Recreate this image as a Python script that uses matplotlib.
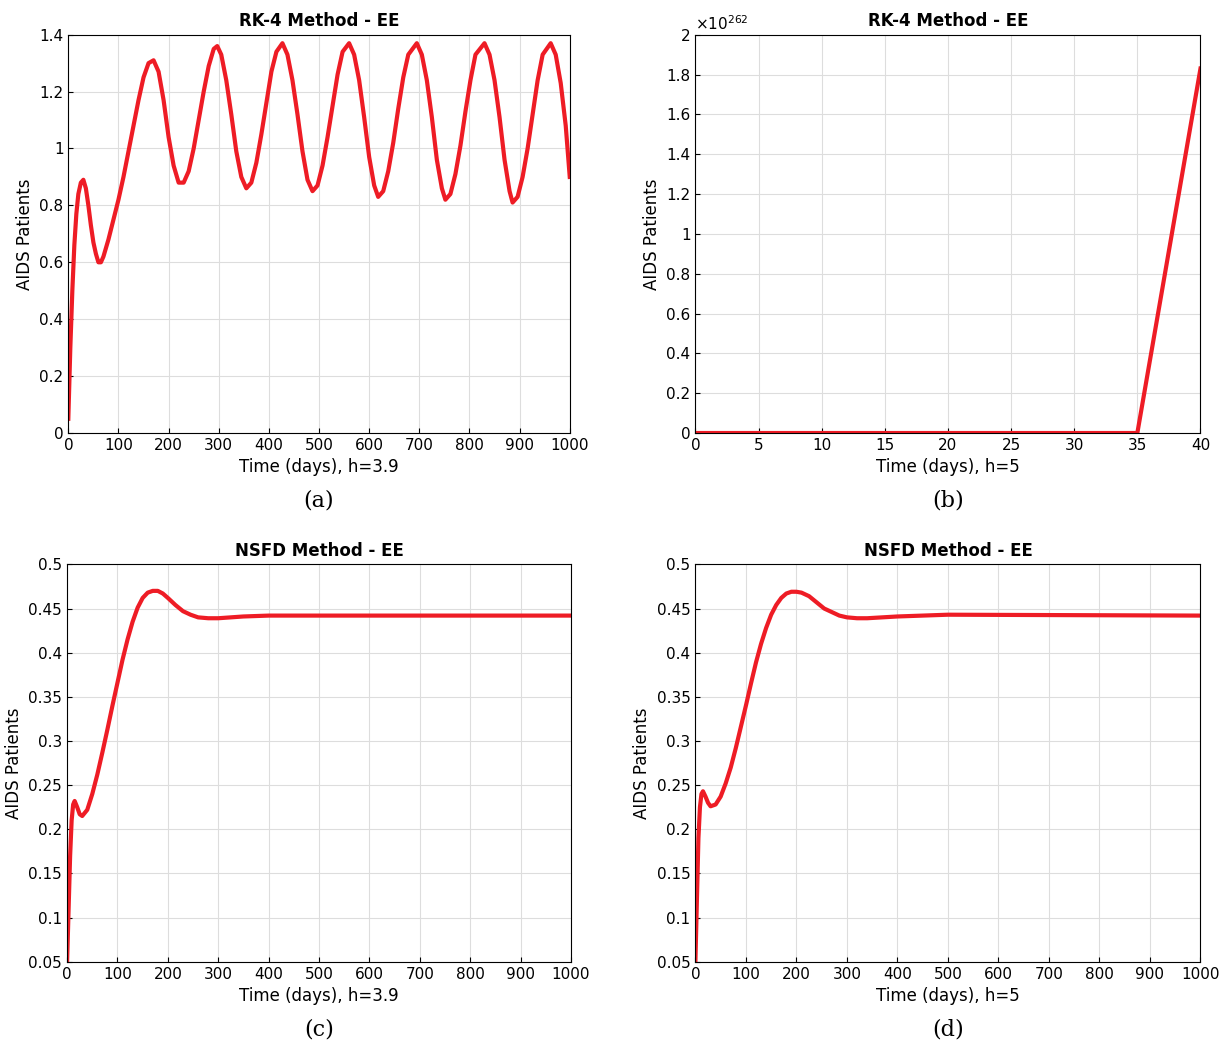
import matplotlib
matplotlib.use('Agg')
import matplotlib.pyplot as plt
import numpy as np

# (a) RK-4, h=3.9
ta = [0, 4, 8, 12, 16, 20, 25, 30, 35, 40, 45, 50, 55, 60, 65, 70, 80, 90, 100, 110, 120, 130, 140, 150, 160, 170,
      180, 190, 200, 210, 220, 230, 240, 250, 260, 270, 280, 290, 297, 305, 315, 325, 335, 345, 355,
      365, 375, 385, 395, 405, 415, 427, 437, 447, 457, 467, 477, 487,
      497, 507, 517, 527, 537, 547, 560, 570, 580, 590, 600, 610, 618,
      628, 638, 648, 658, 668, 678, 695, 705, 715, 725, 735, 745, 752,
      762, 772, 782, 792, 802, 812, 830, 840, 850, 860, 870, 880, 886,
      896, 906, 916, 926, 936, 946, 962, 972, 982, 992, 1000]
ya = [0.05, 0.3, 0.5, 0.66, 0.77, 0.84, 0.88, 0.89, 0.86, 0.8, 0.73, 0.67, 0.63, 0.6, 0.6, 0.62, 0.68, 0.75, 0.82, 0.9, 0.99, 1.08, 1.17, 1.25, 1.3, 1.31,
      1.27, 1.17, 1.04, 0.94, 0.88, 0.88, 0.92, 1.0, 1.1, 1.2, 1.29, 1.35, 1.36, 1.33, 1.24, 1.12, 0.99, 0.9, 0.86,
      0.88, 0.95, 1.05, 1.16, 1.27, 1.34, 1.37, 1.33, 1.24, 1.12, 0.99, 0.89, 0.85,
      0.87, 0.94, 1.04, 1.15, 1.26, 1.34, 1.37, 1.33, 1.24, 1.11, 0.97, 0.87, 0.83,
      0.85, 0.92, 1.02, 1.14, 1.25, 1.33, 1.37, 1.33, 1.24, 1.11, 0.96, 0.86, 0.82,
      0.84, 0.91, 1.01, 1.13, 1.24, 1.33, 1.37, 1.33, 1.24, 1.11, 0.96, 0.85, 0.81,
      0.83, 0.9, 1.0, 1.12, 1.24, 1.33, 1.37, 1.33, 1.23, 1.08, 0.9]

# (b) RK-4, h=5 (blows up)
tb = [0, 5, 10, 15, 20, 25, 30, 35, 40]
yb = [0, 0, 0, 0, 0, 0, 0, 0, 1.83e262]

# (c) NSFD, h=3.9
tc = [0, 3, 6, 9, 12, 15, 20, 25, 30, 40, 50, 60, 70, 80, 90, 100, 110, 120, 130, 140, 150, 160, 170, 180, 190, 200, 215, 230,
      245, 260, 280, 300, 325, 350, 400, 500, 1000]
yc = [0.05, 0.11, 0.17, 0.21, 0.228, 0.232, 0.225, 0.217, 0.215, 0.222, 0.24, 0.262, 0.287, 0.313, 0.34, 0.366, 0.392, 0.415, 0.435, 0.451, 0.462, 0.468, 0.47, 0.47, 0.467, 0.462, 0.454, 0.447,
      0.443, 0.44, 0.439, 0.439, 0.44, 0.441, 0.442, 0.442, 0.442]

# (d) NSFD, h=5
td = [0, 3, 6, 9, 12, 15, 20, 25, 30, 40, 50, 60, 70, 80, 90, 100, 110, 120, 130, 140, 150, 160, 170, 180, 190, 200, 210, 225, 240,
      255, 270, 285, 300, 320, 340, 370, 400, 450, 500, 1000]
yd = [0.05, 0.12, 0.19, 0.225, 0.24, 0.243, 0.237, 0.23, 0.226, 0.228, 0.237, 0.252, 0.27, 0.292, 0.316, 0.34, 0.365, 0.389, 0.41, 0.428, 0.443, 0.454, 0.462, 0.467, 0.469, 0.469, 0.468, 0.464, 0.457,
      0.45, 0.446, 0.442, 0.44, 0.439, 0.439, 0.44, 0.441, 0.442, 0.443, 0.442]

fig = plt.figure(figsize=(12.2, 10.51), dpi=100)
pos = [[0.056, 0.588, 0.411, 0.379], [0.570, 0.588, 0.414, 0.379],
       [0.055, 0.085, 0.413, 0.378], [0.570, 0.085, 0.414, 0.378]]
panels = [(ta, ya, 'RK-4 Method - EE', 'Time (days), h=3.9', (0, 1000), (0, 1.4), np.arange(0, 1.41, 0.2), '(a)'),
          (tb, yb, 'RK-4 Method - EE', 'Time (days), h=5', (0, 40), (0, 2e262), None, '(b)'),
          (tc, yc, 'NSFD Method - EE', 'Time (days), h=3.9', (0, 1000), (0.05, 0.5), np.arange(0.05, 0.501, 0.05), '(c)'),
          (td, yd, 'NSFD Method - EE', 'Time (days), h=5', (0, 1000), (0.05, 0.5), np.arange(0.05, 0.501, 0.05), '(d)')]

for p, (t, y, title, xl, xlim, ylim, yt, lab) in zip(pos, panels):
    ax = fig.add_axes(p)
    ax.plot(t, y, color='#ee1c25', lw=3)
    ax.set_xlim(*xlim)
    ax.set_ylim(*ylim)
    if xlim[1] == 1000:
        ax.set_xticks(np.arange(0, 1001, 100))
    else:
        ax.set_xticks(np.arange(0, 41, 5))
    if yt is not None:
        ax.set_yticks(yt)
        ax.set_yticklabels(['%g' % round(v, 2) for v in yt])
    else:
        yt2 = np.arange(0, 2.01, 0.2)
        ax.set_yticks(yt2 * 1e262)
        ax.set_yticklabels(['%g' % round(v, 1) for v in yt2])
        ax.text(0.0, 1.005, r'$\times10^{262}$', transform=ax.transAxes, fontsize=11, va='bottom')
    ax.grid(True, color='#dddddd', lw=0.8)
    ax.tick_params(labelsize=11, direction='in')
    ax.set_title(title, fontsize=12, fontweight='bold')
    ax.set_xlabel(xl, fontsize=12)
    ax.set_ylabel('AIDS Patients', fontsize=12)
    fig.text(p[0] + p[2] / 2, p[1] - 0.07, lab, ha='center', fontsize=16, family='DejaVu Serif')

fig.savefig('out.png', dpi=100)
